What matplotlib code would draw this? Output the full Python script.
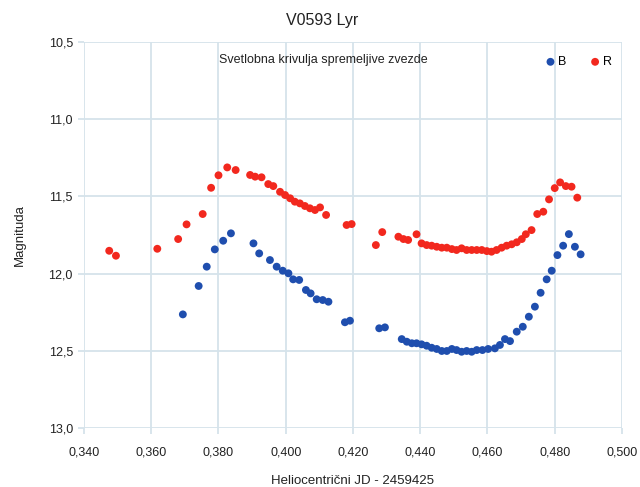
import matplotlib
matplotlib.use("Agg")
import matplotlib.pyplot as plt
from matplotlib.ticker import FuncFormatter

plt.rcParams['font.family'] = ['Liberation Sans', 'DejaVu Sans']

# Data (Heliocentric JD - 2459425, magnitude)
b_jd = [0.3694, 0.3741, 0.3765, 0.3789, 0.3814, 0.3837, 0.3904, 0.3921, 0.3953, 0.3973,
        0.3991, 0.4008, 0.4022, 0.4040, 0.4060, 0.4074, 0.4092, 0.4110, 0.4127, 0.4176,
        0.4191, 0.4278, 0.4295, 0.4345, 0.4360, 0.4375, 0.4389, 0.4404, 0.4419, 0.4434,
        0.4449, 0.4464, 0.4479, 0.4494, 0.4508, 0.4523, 0.4538, 0.4553, 0.4568, 0.4585,
        0.4602, 0.4622, 0.4637, 0.4652, 0.4667, 0.4687, 0.4705, 0.4723, 0.4741, 0.4758,
        0.4776, 0.4791, 0.4808, 0.4825, 0.4842, 0.4860, 0.4877]
b_mag = [12.264, 12.080, 11.955, 11.843, 11.787, 11.739, 11.804, 11.869, 11.912, 11.955,
         11.981, 11.998, 12.037, 12.041, 12.106, 12.128, 12.166, 12.171, 12.182, 12.315,
         12.305, 12.354, 12.348, 12.424, 12.441, 12.451, 12.451, 12.458, 12.467, 12.480,
         12.488, 12.501, 12.501, 12.488, 12.495, 12.506, 12.501, 12.506, 12.495, 12.495,
         12.488, 12.484, 12.462, 12.424, 12.437, 12.376, 12.344, 12.279, 12.214, 12.124,
         12.037, 11.981, 11.880, 11.819, 11.744, 11.826, 11.875]

r_jd = [0.3475, 0.3495, 0.3618, 0.3680, 0.3705, 0.3753, 0.3778, 0.3800, 0.3826, 0.3851,
        0.3894, 0.3909, 0.3928, 0.3948, 0.3963, 0.3983, 0.3998, 0.4013, 0.4027, 0.4042,
        0.4057, 0.4072, 0.4087, 0.4102, 0.4120, 0.4181, 0.4196, 0.4268, 0.4287, 0.4335,
        0.4350, 0.4364, 0.4389, 0.4404, 0.4419, 0.4434, 0.4449, 0.4464, 0.4479, 0.4494,
        0.4508, 0.4523, 0.4538, 0.4553, 0.4568, 0.4583, 0.4598, 0.4612, 0.4627, 0.4642,
        0.4657, 0.4672, 0.4687, 0.4702, 0.4714, 0.4731, 0.4748, 0.4766, 0.4783, 0.4800,
        0.4816, 0.4833, 0.4850, 0.4867]
r_mag = [11.852, 11.884, 11.839, 11.776, 11.681, 11.614, 11.444, 11.363, 11.312, 11.329,
         11.361, 11.372, 11.376, 11.420, 11.433, 11.470, 11.491, 11.512, 11.534, 11.545,
         11.562, 11.577, 11.588, 11.571, 11.620, 11.685, 11.679, 11.815, 11.731, 11.761,
         11.776, 11.782, 11.745, 11.804, 11.815, 11.819, 11.826, 11.832, 11.832, 11.841,
         11.847, 11.836, 11.847, 11.847, 11.847, 11.847, 11.854, 11.858, 11.847, 11.832,
         11.819, 11.810, 11.797, 11.776, 11.745, 11.718, 11.614, 11.599, 11.519, 11.446,
         11.409, 11.433, 11.437, 11.508]

x_ticks = [0.34, 0.36, 0.38, 0.40, 0.42, 0.44, 0.46, 0.48, 0.50]
y_ticks = [10.5, 11.0, 11.5, 12.0, 12.5, 13.0]

blue = '#1f4eae'
red = '#f2281e'
grid_c = '#d5e3eb'

fig = plt.figure(figsize=(6.4, 4.87), dpi=100)
ax = fig.add_axes([0.13125, 0.1211, 0.8406, 0.7926])

ax.scatter(b_jd, b_mag, s=32, color=blue, edgecolors='none', label='B', zorder=3)
ax.scatter(r_jd, r_mag, s=32, color=red, edgecolors='none', label='R', zorder=3)

ax.set_xlim(0.34, 0.50)
ax.set_ylim(13.0, 10.5)
ax.set_xticks(x_ticks)
ax.set_yticks(y_ticks)
ax.xaxis.set_major_formatter(FuncFormatter(lambda v, p: f"{v:.3f}".replace('.', ',')))
ax.yaxis.set_major_formatter(FuncFormatter(lambda v, p: f"{v:.1f}".replace('.', ',')))
ax.grid(True, color=grid_c, linewidth=1.3, zorder=0)
ax.set_axisbelow(True)
for s in ax.spines.values():
    s.set_visible(False)
ax.tick_params(axis='both', length=4, width=1.3, color=grid_c, labelsize=9, labelcolor='#222222')
ax.tick_params(axis='x', pad=9)
ax.tick_params(axis='y', pad=4)

ax.set_xlabel('Heliocentrični JD - 2459425', fontsize=9.5, labelpad=12, color='#222222')
ax.set_ylabel('Magnituda', fontsize=9.5, labelpad=16, color='#222222')

fig.text(0.503, 1 - 20 / 487, 'V0593 Lyr', ha='center', va='center', fontsize=11.5, color='#222222')
ax.text(0.444, 0.953, 'Svetlobna krivulja spremeljive zvezde', transform=ax.transAxes,
        ha='center', va='center', fontsize=9, color='#222222')

ax.legend(loc='center right', bbox_to_anchor=(0.99, 0.948), ncol=2, frameon=False,
          fontsize=9, handletextpad=0.1, columnspacing=1.8, markerscale=1.0,
          borderaxespad=0, handlelength=1.0)

fig.savefig('out.png', dpi=100)
